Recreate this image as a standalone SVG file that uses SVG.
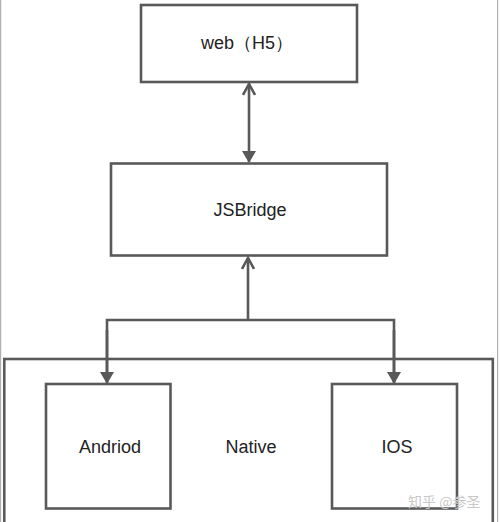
<svg xmlns="http://www.w3.org/2000/svg" width="500" height="522" viewBox="0 0 500 522">
<style>
.box{fill:#ffffff;stroke:#595959;stroke-width:2.6}
.lbl{font-family:"Liberation Sans","Helvetica",Arial,sans-serif;font-size:18px;fill:#222;text-anchor:middle;dominant-baseline:central}
.ln{fill:none;stroke:#595959;stroke-width:2.6}
.frame{stroke:#b0b0b0;stroke-width:1.2}
.wm{font-family:"Noto Sans CJK SC","Liberation Sans",sans-serif;font-size:14px;fill:#c8c8c8;dominant-baseline:central}
</style>
<defs>
<marker id="tri" viewBox="0 0 12 14" refX="11" refY="7" markerWidth="12" markerHeight="14" markerUnits="userSpaceOnUse" orient="auto">
<path d="M0,0 L12,7 L0,14 Z" fill="#595959"/>
</marker>
<marker id="chev" viewBox="0 0 14 14" refX="12" refY="7" markerWidth="14" markerHeight="14" markerUnits="userSpaceOnUse" orient="auto">
<path d="M1,1 L12,7 L1,13" fill="none" stroke="#595959" stroke-width="2.6"/>
</marker>
</defs>
<rect width="500" height="522" fill="#ffffff"/>
<line class="frame" x1="0.6" y1="0" x2="0.6" y2="522"/>
<line class="frame" x1="497.6" y1="0" x2="497.6" y2="522"/>
<g id="native">
<rect class="box" x="4.3" y="359" width="488.5" height="180"/>
<text class="lbl" x="251" y="447">Native</text>
</g>
<g id="web">
<rect class="box" x="141" y="5" width="216" height="77"/>
<text class="lbl" x="247" y="43">web（H5）</text>
</g>
<g id="jsbridge">
<rect class="box" x="111" y="163.5" width="276" height="92"/>
<text class="lbl" x="250" y="210">JSBridge</text>
</g>
<g id="andriod">
<rect class="box" x="46" y="384" width="124.5" height="124.5"/>
<text class="lbl" x="110" y="447">Andriod</text>
</g>
<g id="ios">
<rect class="box" x="332" y="384" width="125" height="124.5"/>
<text class="lbl" x="397" y="447">IOS</text>
</g>
<g id="connectors">
<line class="ln" x1="249" y1="120" x2="249" y2="84" marker-end="url(#chev)"/>
<line class="ln" x1="249" y1="120" x2="249" y2="162" marker-end="url(#tri)"/>
<line class="ln" x1="248" y1="320" x2="248" y2="258" marker-end="url(#chev)"/>
<polyline class="ln" points="107,382 107,320 394,320 394,382"/>
<line class="ln" x1="107" y1="330" x2="107" y2="383" marker-end="url(#tri)"/>
<line class="ln" x1="394" y1="330" x2="394" y2="383" marker-end="url(#tri)"/>
</g>
<text class="wm" x="408" y="501">知乎 @参圣</text>
</svg>
